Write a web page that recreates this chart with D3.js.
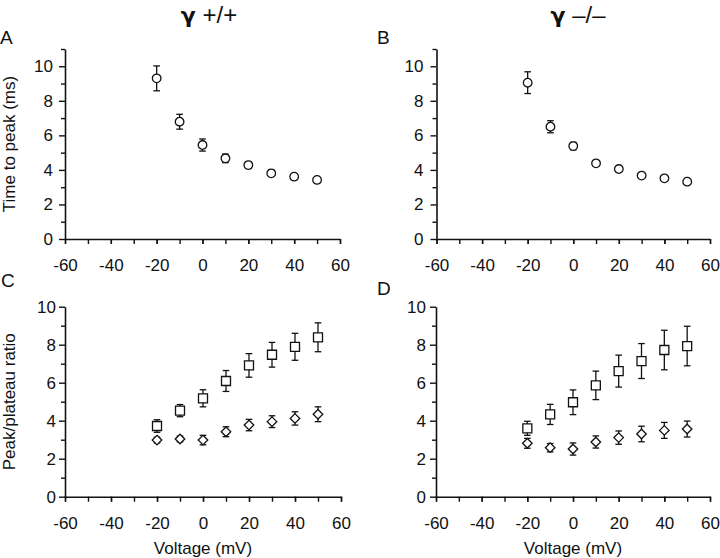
<!DOCTYPE html>
<html><head><meta charset="utf-8">
<script src="https://cdn.jsdelivr.net/npm/d3@7/dist/d3.min.js"></script>
<style>
body{margin:0;background:#fff;}
text{font-family:"Liberation Sans",Arial,sans-serif;fill:#111;}
</style></head>
<body><svg id="c" width="720" height="558"></svg>
<script>
// ---- data ----
const voltages = [-20,-10,0,10,20,30,40,50];
const xTicks = [-60,-40,-20,0,20,40,60];
const ttpWT    = [9.30,6.79,5.44,4.67,4.28,3.80,3.61,3.42];
const ttpWTerr = [0.72,0.43,0.35,0.25,0.20,0.18,0.15,0.14];
const ttpKO    = [9.05,6.50,5.38,4.38,4.05,3.67,3.51,3.32];
const ttpKOerr = [0.63,0.35,0.22,0.15,0.14,0.12,0.10,0.10];
const sqWT     = [3.72,4.53,5.18,6.09,6.91,7.47,7.89,8.39];
const sqWTerr  = [0.33,0.32,0.45,0.55,0.62,0.65,0.71,0.76];
const diWT     = [2.98,3.04,2.98,3.42,3.77,3.95,4.12,4.34];
const diWTerr  = [0.15,0.15,0.25,0.26,0.30,0.31,0.35,0.39];
const sqKO     = [3.60,4.33,4.97,5.86,6.61,7.14,7.72,7.93];
const sqKOerr  = [0.37,0.53,0.65,0.75,0.84,0.92,1.04,1.04];
const diKO     = [2.81,2.58,2.51,2.88,3.11,3.30,3.49,3.56];
const diKOerr  = [0.26,0.22,0.32,0.32,0.35,0.41,0.42,0.42];
const titles = ["γ", "+/+", "–/–"];

const svg = d3.select("#c");
const ink = "#111";

function panel(p){
  const x = d3.scaleLinear().domain([-60,60]).range([p.x0,p.x1]);
  const y = d3.scaleLinear().domain([0,p.ymax]).range([p.yb,p.yt]);
  const g = svg.append("g");
  g.append("g").attr("transform",`translate(0,${p.yb})`)
    .call(d3.axisBottom(x).tickValues(d3.range(-60,61,10)).tickSize(5).tickSizeOuter(0).tickFormat(""));
  const xl = g.append("g").attr("transform",`translate(0,${p.yb})`)
    .call(d3.axisBottom(x).tickValues(xTicks).tickSize(5).tickSizeOuter(0).tickPadding(15).tickFormat(d=>String(d)));
  xl.select(".domain").remove();
  g.append("g").attr("transform",`translate(${p.x0},0)`)
    .call(d3.axisLeft(y).tickValues(d3.range(0,11,2)).tickSize(6).tickSizeOuter(0).tickPadding(p.gap-6).tickFormat(d=>String(d)));
  const ym = g.append("g").attr("transform",`translate(${p.x0},0)`)
    .call(d3.axisLeft(y).tickValues(d3.range(1,p.ymax+0.1,2)).tickSize(4).tickSizeOuter(0).tickFormat(""));
  ym.select(".domain").remove();
  g.selectAll(".domain").attr("stroke",ink).attr("stroke-width",1.6);
  g.selectAll(".tick line").attr("stroke",ink).attr("stroke-width",1.4);
  g.selectAll(".tick text").attr("font-size",17).attr("fill",ink);

  p.series.forEach(s=>{
    const sg = g.append("g");
    const d = voltages.map((v,i)=>({v, m:s.vals[i], e:s.errs[i]}));
    sg.selectAll("line.eb").data(d).join("line")
      .attr("x1",q=>x(q.v)).attr("x2",q=>x(q.v))
      .attr("y1",q=>y(q.m+q.e)).attr("y2",q=>y(q.m-q.e))
      .attr("stroke",ink).attr("stroke-width",1.3);
    [1,-1].forEach(sgn=>{
      sg.selectAll("line.cap"+sgn).data(d).join("line")
        .attr("x1",q=>x(q.v)-3.3).attr("x2",q=>x(q.v)+3.3)
        .attr("y1",q=>y(q.m+sgn*q.e)).attr("y2",q=>y(q.m+sgn*q.e))
        .attr("stroke",ink).attr("stroke-width",1.3);
    });
    const sym = s.shape==="circle" ? d3.symbolCircle : s.shape==="square" ? d3.symbolSquare : d3.symbolDiamond2;
    const size = s.shape==="circle" ? 58 : s.shape==="square" ? 81 : 58;
    sg.selectAll("path.m").data(d).join("path")
      .attr("transform",q=>`translate(${x(q.v)},${y(q.m)})`)
      .attr("d",d3.symbol(sym,size))
      .attr("fill","#fff").attr("stroke",ink).attr("stroke-width",1.3);
  });

  svg.append("text").attr("x",p.lx).attr("y",p.ly).attr("font-size",19).text(p.letter);
  if(p.ylabel){
    svg.append("text").attr("transform",`translate(15,${(p.yb+p.yt)/2}) rotate(-90)`)
      .attr("text-anchor","middle").attr("font-size",17).text(p.ylabel);
  }
  if(p.xlabel){
    svg.append("text").attr("x",(p.x0+p.x1)/2).attr("y",554)
      .attr("text-anchor","middle").attr("font-size",17).text(p.xlabel);
  }
}

panel({x0:65,x1:340,yb:239,yt:49,ymax:11,gap:12,letter:"A",lx:0,ly:44,ylabel:"Time to peak (ms)",
  series:[{vals:ttpWT,errs:ttpWTerr,shape:"circle"}]});
panel({x0:436.5,x1:710,yb:239,yt:49,ymax:11,gap:13,letter:"B",lx:377,ly:43.5,
  series:[{vals:ttpKO,errs:ttpKOerr,shape:"circle"}]});
panel({x0:65,x1:341,yb:496.7,yt:306.7,ymax:10,gap:9,letter:"C",lx:1,ly:287,ylabel:"Peak/plateau ratio",xlabel:"Voltage (mV)",
  series:[{vals:sqWT,errs:sqWTerr,shape:"square"},{vals:diWT,errs:diWTerr,shape:"diamond"}]});
panel({x0:436,x1:710,yb:496.7,yt:306.7,ymax:10,gap:10,letter:"D",lx:377,ly:295,xlabel:"Voltage (mV)",
  series:[{vals:sqKO,errs:sqKOerr,shape:"square"},{vals:diKO,errs:diKOerr,shape:"diamond"}]});

function title(cx, suffix){
  const t = svg.append("text").attr("x",cx).attr("y",23).attr("text-anchor","middle").attr("font-size",24);
  t.append("tspan").attr("font-weight","bold").style("font-family","'DejaVu Sans',sans-serif").attr("font-size",22).text(titles[0]);
  t.append("tspan").text(" " + suffix);
}
title(209, titles[1]);
title(578, titles[2]);
</script></body></html>
